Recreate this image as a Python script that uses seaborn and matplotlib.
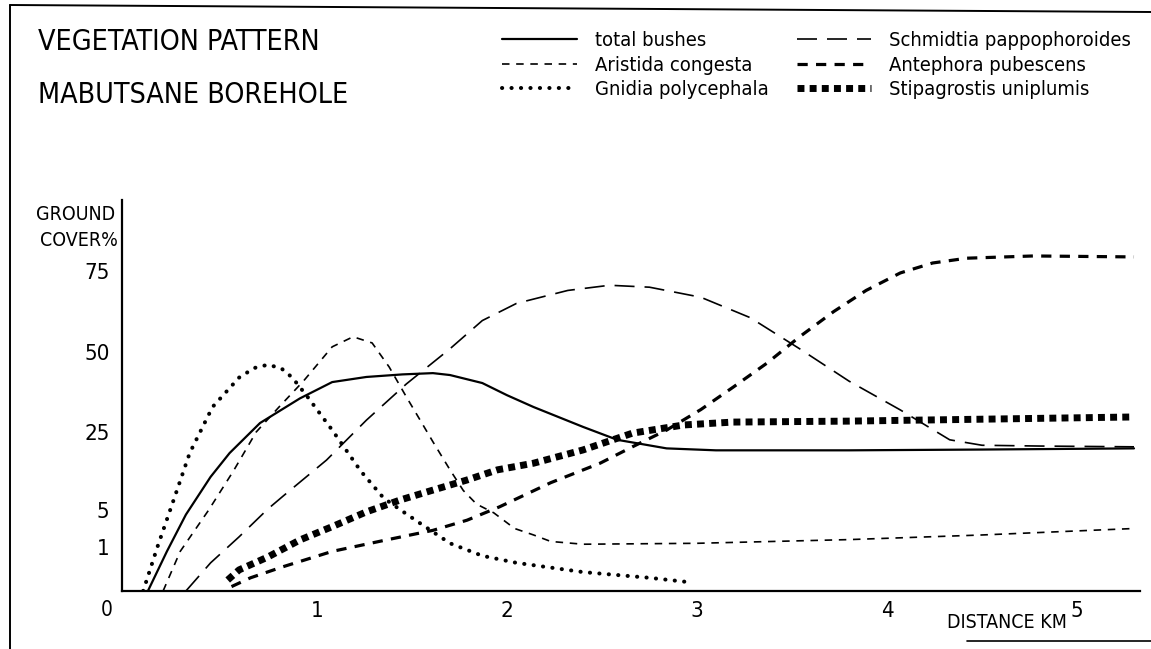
import numpy as np
import pandas as pd
import matplotlib
matplotlib.use("Agg")
import matplotlib.pyplot as plt
from matplotlib.lines import Line2D
from matplotlib import font_manager as fm
import seaborn as sns

# ---------------- data (distance km, ground cover %) ----------------
tb_x = [0.11, 0.21, 0.31, 0.44, 0.54, 0.70, 0.91, 1.08, 1.26, 1.45, 1.61, 1.70, 1.87, 2.00, 2.14, 2.40, 2.58, 2.84, 3.10, 3.80, 4.50, 5.30]
tb_y = [0.0, 0.9, 4.5, 13.5, 19.6, 27.8, 35.5, 40.6, 42.2, 43.0, 43.4, 42.8, 40.3, 36.5, 32.8, 26.6, 23.0, 20.8, 20.3, 20.3, 20.5, 20.8]

ar_x = [0.19, 0.28, 0.43, 0.56, 0.68, 0.80, 0.93, 1.08, 1.19, 1.29, 1.38, 1.47, 1.54, 1.61, 1.70, 1.77, 1.84, 1.93, 2.04, 2.14, 2.23, 2.40, 3.00, 3.80, 4.50, 5.30]
ar_y = [0.0, 0.9, 5.0, 15.0, 25.0, 32.8, 41.0, 51.6, 54.7, 52.8, 45.3, 36.0, 29.0, 22.5, 15.3, 10.0, 6.5, 4.7, 3.0, 2.3, 1.6, 1.3, 1.4, 1.8, 2.3, 3.0]

gn_x = [0.085, 0.16, 0.24, 0.33, 0.45, 0.59, 0.67, 0.74, 0.81, 0.87, 0.95, 1.08, 1.23, 1.35, 1.44, 1.54, 1.70, 1.87, 2.05, 2.40, 2.75, 2.96]
gn_y = [0.0, 1.0, 6.8, 19.6, 32.8, 42.0, 45.0, 46.0, 45.0, 42.0, 36.0, 25.6, 15.0, 8.1, 5.0, 3.6, 1.4, 0.8, 0.64, 0.43, 0.3, 0.2]

sc_x = [0.31, 0.44, 0.59, 0.74, 0.82, 1.05, 1.26, 1.47, 1.70, 1.87, 2.05, 2.32, 2.54, 2.75, 3.02, 3.28, 3.54, 3.80, 4.07, 4.33, 4.50, 4.80, 5.30]
sc_y = [0.0, 0.64, 2.1, 5.2, 8.5, 17.8, 28.7, 40.0, 51.0, 59.7, 65.0, 69.0, 70.6, 70.0, 66.9, 60.6, 51.0, 40.9, 31.9, 23.0, 21.6, 21.4, 21.2]

an_x = [0.55, 0.65, 0.82, 1.08, 1.35, 1.61, 1.79, 1.96, 2.23, 2.49, 2.66, 2.84, 3.02, 3.19, 3.37, 3.54, 3.72, 3.89, 4.07, 4.24, 4.42, 4.77, 5.30]
an_y = [0.1, 0.3, 0.55, 0.9, 1.7, 2.8, 3.9, 5.8, 12.0, 17.0, 21.2, 25.6, 32.0, 39.0, 46.6, 54.7, 62.5, 69.0, 74.4, 77.5, 79.0, 79.7, 79.4]

st_x = [0.53, 0.59, 0.74, 0.91, 1.08, 1.26, 1.44, 1.61, 1.79, 1.95, 2.14, 2.40, 2.66, 2.93, 3.19, 3.80, 4.50, 5.30]
st_y = [0.25, 0.48, 0.77, 1.76, 3.2, 4.8, 7.6, 10.1, 12.7, 15.3, 17.0, 20.4, 24.7, 27.2, 28.1, 28.4, 29.0, 29.7]

series_names = ["total bushes", "Aristida congesta", "Gnidia polycephala",
                "Schmidtia pappophoroides", "Antephora pubescens", "Stipagrostis uniplumis"]
series_x = [tb_x, ar_x, gn_x, sc_x, an_x, st_x]
series_y = [tb_y, ar_y, gn_y, sc_y, an_y, st_y]

y_ticks = [1, 5, 25, 50, 75]
x_ticks = [1, 2, 3, 4, 5]

# non-linear ground-cover axis of the original drawing
scale_vals = [0, 1, 5, 25, 50, 75, 100]
scale_pos = [0, 44, 81, 159, 239, 320, 400]

# ---------------- styles ----------------
styles = {
    "total bushes": dict(linewidth=1.6, linestyle="-"),
    "Aristida congesta": dict(linewidth=1.2, linestyle=(0, (4.5, 4.0))),
    "Gnidia polycephala": dict(linewidth=2.9, linestyle=(0, (0.05, 2.3)), dash_capstyle="round"),
    "Schmidtia pappophoroides": dict(linewidth=1.2, linestyle=(0, (12, 6))),
    "Antephora pubescens": dict(linewidth=2.3, linestyle=(0, (3.2, 2.6))),
    "Stipagrostis uniplumis": dict(linewidth=5.0, linestyle=(0, (1.0, 0.75)), dash_capstyle="butt"),
}

sns.set_theme(style="white")
plt.rcParams["font.family"] = ["DejaVu Sans"]
plt.rcParams["text.color"] = "black"

# pick a condensed face if one is installed (the original uses a narrow plotter font)
cond_path = None
for f in fm.fontManager.ttflist:
    fn = f.fname.lower()
    if "dejavusanscondensed.ttf" in fn:
        cond_path = f.fname
        break
if cond_path is None:
    for f in fm.fontManager.ttflist:
        fn = f.fname.lower()
        if "liberationsansnarrow-regular" in fn or ("narrow" in fn and "regular" in fn):
            cond_path = f.fname
            break
if cond_path is not None:
    fp_kw = lambda size: dict(fontproperties=fm.FontProperties(fname=cond_path, size=size))
    title_size, small_size, legend_size = 20.5, 14, 14.5
else:
    fp_kw = lambda size: dict(fontsize=size, family="DejaVu Sans")
    title_size, small_size, legend_size = 18, 13, 13.5

W, H = 1151, 649
fig = plt.figure(figsize=(W / 100, H / 100), dpi=100)
ax = fig.add_axes([122 / W, (H - 591) / H, (1140 - 122) / W, (591 - 200) / H])


def fwd(v):
    return np.interp(v, scale_vals, scale_pos)


def inv(p):
    return np.interp(p, scale_pos, scale_vals)


ax.set_yscale("function", functions=(fwd, inv))

for name, xs, ys in zip(series_names, series_x, series_y):
    df = pd.DataFrame({"km": xs, "cover": ys})
    sns.lineplot(data=df, x="km", y="cover", ax=ax, color="black", label=name,
                 sort=False, estimator=None, legend=False, **styles[name])

ax.set_xlim((122 - 127) / 190, (1140 - 127) / 190)
ax.set_ylim(0, inv(391))
ax.set_xticks(x_ticks)
ax.set_xticklabels([str(t) for t in x_ticks])
ax.set_yticks(y_ticks)
ax.set_yticklabels([str(t) for t in y_ticks])
ax.minorticks_off()
ax.set_xlabel("")
ax.set_ylabel("")
for s in ["top", "right"]:
    ax.spines[s].set_visible(False)
for s in ["left", "bottom"]:
    ax.spines[s].set_color("black")
    ax.spines[s].set_linewidth(1.6)
ax.tick_params(axis="both", which="major", direction="out", color="black",
               width=1.3, labelcolor="black")
ax.tick_params(axis="y", length=6, pad=3)
ax.tick_params(axis="x", length=5, pad=2)
for lab in ax.get_xticklabels() + ax.get_yticklabels():
    if cond_path is not None:
        lab.set_fontproperties(fm.FontProperties(fname=cond_path, size=small_size + 2))
    else:
        lab.set_fontsize(small_size + 1)
ax.grid(False)
ax.set_facecolor("white")

# legend
handles = [Line2D([0], [0], color="black", **styles[n]) for n in series_names]
if cond_path is not None:
    leg_prop = fm.FontProperties(fname=cond_path, size=legend_size)
else:
    leg_prop = fm.FontProperties(family="DejaVu Sans", size=legend_size)
fig.legend(handles, series_names, ncol=2, loc="upper left",
           bbox_to_anchor=(502 / W, 1 - 31 / H), frameon=False, borderpad=0,
           borderaxespad=0, handlelength=3.7, handletextpad=0.9,
           columnspacing=1.4, labelspacing=0.28, prop=leg_prop, labelcolor="black")

# texts
fig.text(38 / W, 1 - 42 / H, "VEGETATION PATTERN", ha="left", va="center", **fp_kw(title_size))
fig.text(38 / W, 1 - 95 / H, "MABUTSANE BOREHOLE", ha="left", va="center", **fp_kw(title_size))
fig.text(115 / W, 1 - 214 / H, "GROUND", ha="right", va="center", **fp_kw(small_size))
fig.text(118 / W, 1 - 240 / H, "COVER%", ha="right", va="center", **fp_kw(small_size))
fig.text(107 / W, 1 - 610 / H, "0", ha="center", va="center", **fp_kw(small_size + 1))
fig.text(947 / W, 1 - 622 / H, "DISTANCE KM", ha="left", va="center", **fp_kw(small_size))

# page frame remnants
fig.add_artist(Line2D([10 / W, 10 / W], [0, 1 - 5 / H], transform=fig.transFigure, color="black", lw=1.4))
fig.add_artist(Line2D([10 / W, 1], [1 - 5 / H, 1 - 12 / H], transform=fig.transFigure, color="black", lw=1.4))
fig.add_artist(Line2D([967 / W, 1], [1 - 641 / H, 1 - 641 / H], transform=fig.transFigure, color="black", lw=1.2))

fig.savefig("out.png", dpi=100, facecolor="white")
